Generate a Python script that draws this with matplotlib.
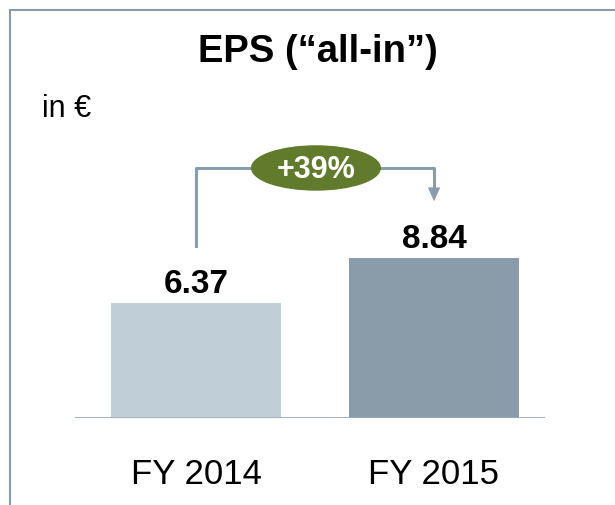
import matplotlib.pyplot as plt
from matplotlib.patches import Ellipse
from matplotlib.lines import Line2D

plt.rcParams["font.family"] = ["Liberation Sans", "DejaVu Sans"]

years = ["FY 2014", "FY 2015"]
eps = [6.37, 8.84]
growth_label = "+39%"
bar_colors = ["#c0ced8", "#8a9caa"]
line_color = "#8a9cab"

fig = plt.figure(figsize=(6.15, 5.05), dpi=100)

# frame lines (left + top only, rest is cropped)
fig.add_artist(Line2D([10 / 615, 10 / 615], [0, 1 - 10 / 505],
                      transform=fig.transFigure, color=line_color, lw=1.5))
fig.add_artist(Line2D([10 / 615, 1], [1 - 10 / 505, 1 - 10 / 505],
                      transform=fig.transFigure, color=line_color, lw=1.5))

ax = fig.add_axes([75 / 615, 87 / 505, 470 / 615, 408 / 505])
x = [0, 1]
ax.bar(x, eps, width=0.714, color=bar_colors, zorder=2)
ax.set_xlim(-0.508, 1.466)
ax.set_ylim(0, 22.6)
ax.axhline(0, color="#9aaab8", lw=2, zorder=3)
for s in ax.spines.values():
    s.set_visible(False)
ax.set_xticks([])
ax.set_yticks([])
ax.patch.set_alpha(0)

for xi, v in zip(x, eps):
    ax.text(xi, v + 0.57, f"{v:.2f}", ha="center", va="baseline",
            fontsize=24, fontweight="bold")

# growth bracket
y_top = 13.85
ax.plot([0, 0, 1, 1], [eps[0] + 3.15, y_top, y_top, 12.7],
        color=line_color, lw=2.2, zorder=1)
ax.annotate("", xy=(1, 11.85), xytext=(1, 12.9),
            arrowprops=dict(arrowstyle="-|>,head_width=0.45,head_length=1.0",
                            color=line_color, lw=0))
ax.add_patch(Ellipse((0.504, y_top), 0.54, 2.44, color="#627a2b", zorder=4))
ax.text(0.504, 13.3, growth_label, ha="center", va="baseline", color="white",
        fontsize=22, fontweight="bold", zorder=5)

fig.text(318 / 615, 1 - 62 / 505, "EPS (\u201call-in\u201d)", ha="center",
         va="baseline", fontsize=27.5, fontweight="bold")
fig.text(42 / 615, 1 - 117 / 505, "in \u20ac", ha="left", va="baseline",
         fontsize=22)
for xi, lab in zip([196, 434], years):
    fig.text(xi / 615, 1 - 484 / 505, lab, ha="center", va="baseline",
             fontsize=25)

fig.savefig("out.png", dpi=100)
